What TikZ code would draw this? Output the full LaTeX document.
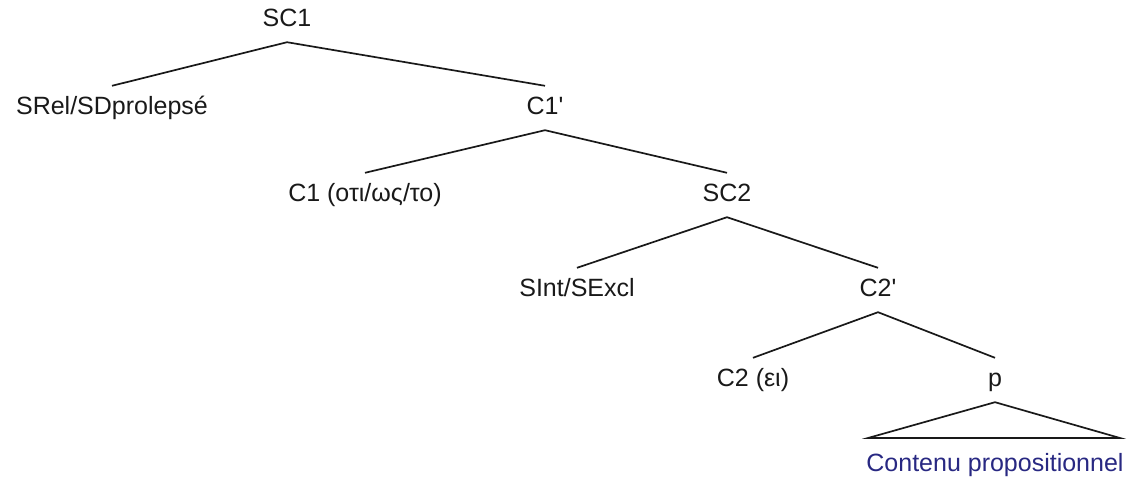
\documentclass[tikz,border=0pt]{standalone}
\usepackage{fontspec}
\setmainfont{Liberation Sans}
\definecolor{navy}{RGB}{40,40,130}
\definecolor{ink}{RGB}{25,25,25}
\tikzset{
  lbl/.style={font=\fontsize{25}{29}\selectfont, text=ink, inner sep=0pt, minimum height=44pt, text height=18pt, text depth=5pt},
  edge/.style={line width=1.7pt, draw=ink},
}
\begin{document}
\begin{tikzpicture}[x=1pt,y=-1pt]
\useasboundingbox (0,0) rectangle (1145,479);
\node[lbl] (SC1) at (287,20) {SC1};
\node[lbl] (SRel) at (112,108) {SRel/SDprolepsé};
\node[lbl] (C1b) at (545,108) {C1\textquotesingle};
\node[lbl] (C1) at (365,195) {C1 (οτι/ως/το)};
\node[lbl] (SC2) at (727,195) {SC2};
\node[lbl] (SInt) at (577,290) {SInt/SExcl};
\node[lbl] (C2b) at (878,290) {C2\textquotesingle};
\node[lbl] (C2) at (753,380) {C2 (ει)};
\node[lbl] (p) at (995,380) {p};
\node[lbl, text=navy] (CP) at (995,465) {Contenu propositionnel};
\coordinate (tl) at (868,438);
\coordinate (tr) at (1120,438);
\draw[edge] (SRel.north) -- (SC1.south) -- (C1b.north);
\draw[edge] (C1.north) -- (C1b.south) -- (SC2.north);
\draw[edge] (SInt.north) -- (SC2.south) -- (C2b.north);
\draw[edge] (C2.north) -- (C2b.south) -- (p.north);
\draw[edge, line join=miter] (p.south) -- (tr) -- (tl) -- cycle;
\end{tikzpicture}
\end{document}
